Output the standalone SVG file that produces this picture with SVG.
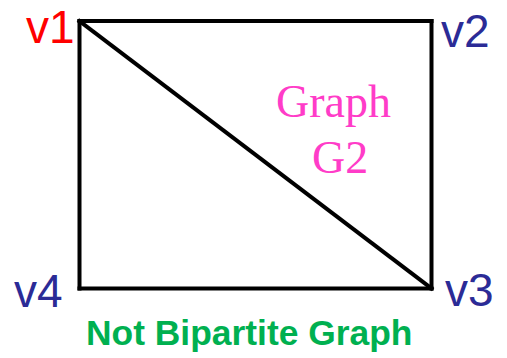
<svg xmlns="http://www.w3.org/2000/svg" width="507" height="358" viewBox="0 0 507 358">
<style>
.edge{stroke:#000;stroke-width:4;fill:none;stroke-linecap:square}
.lbl{font-family:"Liberation Sans",Arial,sans-serif;font-size:46px}
.navy{fill:#2B2B96}
.red{fill:#FF0000}
.title{font-family:"Liberation Serif","Times New Roman",serif;font-size:46px;fill:#FF3CC8}
.caption{font-family:"Liberation Sans",Arial,sans-serif;font-size:35.4px;font-weight:bold;fill:#00B050}
</style>
<rect width="507" height="358" fill="#fff"/>
<g id="connectors">
<line class="edge" x1="79.5" y1="21" x2="431.5" y2="21"/>
<line class="edge" x1="431.5" y1="21" x2="431.5" y2="288.5"/>
<line class="edge" x1="431.5" y1="288.5" x2="79.5" y2="288.5"/>
<line class="edge" x1="79.5" y1="288.5" x2="79.5" y2="21"/>
<line class="edge" x1="79.5" y1="21" x2="431.5" y2="288.5"/>
</g>
<g id="v1"><text class="lbl red" x="26" y="42.5">v1</text></g>
<g id="v2"><text class="lbl navy" x="441" y="46.5">v2</text></g>
<g id="v4"><text class="lbl navy" x="14" y="307">v4</text></g>
<g id="v3"><text class="lbl navy" x="445" y="306">v3</text></g>
<g id="label-graph">
<text class="title" x="276" y="116.5">Graph</text>
<text class="title" x="312" y="173">G2</text>
</g>
<g id="caption"><text class="caption" x="86" y="345">Not Bipartite Graph</text></g>
</svg>
